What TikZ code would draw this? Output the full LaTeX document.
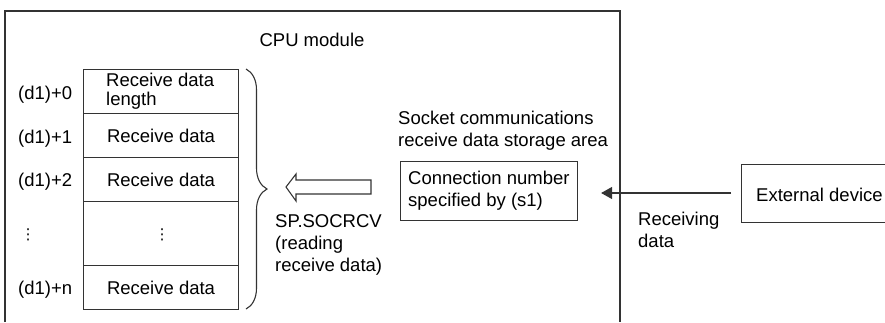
\documentclass[tikz,border=0pt]{standalone}
\usepackage{fontspec}
\setmainfont{Liberation Sans}
\newfontfamily\dejavu{DejaVu Sans}
\usetikzlibrary{decorations.pathreplacing,arrows.meta}
\begin{document}
\begin{tikzpicture}[x=1pt,y=-1pt,
  every node/.style={font=\fontsize{18.5}{22}\selectfont},
  ln/.style={draw=black!80,line width=1.1pt},
  cell/.style={ln,minimum width=155pt,inner sep=0pt,anchor=north west},
  lbl/.style={anchor=west,inner sep=0pt},
  vd/.style={inner sep=0pt,font=\dejavu\fontsize{15}{15}\selectfont},
  txt/.style={anchor=west,inner sep=0pt,align=left}]
\useasboundingbox (0,0) rectangle (885,322);
% CPU module frame (open bottom)
\draw[ln] (5,322) -- (5,11) -- (620,11) -- (620,322);
\node[inner sep=0pt] (cpu) at (312,40) {CPU module};
% table
\node[cell,minimum height=44pt] (r0) at (83,69) {};
\node[cell,minimum height=44pt] (r1) at (83,113) {};
\node[cell,minimum height=44pt] (r2) at (83,157) {};
\node[cell,minimum height=64pt] (r3) at (83,201) {};
\node[cell,minimum height=44pt] (rn) at (83,265) {};
\node[txt,font=\fontsize{18.5}{19.5}\selectfont] (t0) at (106,91) {Receive data\\length};
\node[inner sep=0pt] (t1) at (r1.center) {Receive data};
\node[inner sep=0pt] (t2) at (r2.center) {Receive data};
\node[vd] (t3) at (162,235) {⋮};
\node[inner sep=0pt] (tn) at (rn.center) {Receive data};
% left labels
\node[lbl] (l0) at (18,95) {(d1)+0};
\node[lbl] (l1) at (18,139) {(d1)+1};
\node[lbl] (l2) at (18,182) {(d1)+2};
\node[vd] (l3) at (28,235) {⋮};
\node[lbl] (ln) at (18,290) {(d1)+n};
% brace
\coordinate (bt) at (246,69);
\coordinate (bb) at (246,309);
\draw[draw=black!80,line width=1.1pt,decorate,decoration={brace,amplitude=21pt}] (bt) -- (bb);
% hollow arrow
\draw[ln,line join=miter] (371,180) -- (296,180) -- (296,174) -- (286,187) -- (296,201) -- (296,194) -- (371,194) -- cycle;
\node[txt] (sp) at (275,245) {SP.SOCRCV\\(reading\\receive data)};
% socket area
\node[txt] (sock) at (398,131) {Socket communications\\receive data storage area};
\node[ln,anchor=north west,minimum width=177pt,minimum height=59pt,inner sep=0pt] (conn) at (400,161) {};
\node[txt] (connt) at (408,191) {Connection number\\specified by (s1)};
% external device
\node[ln,anchor=north west,minimum width=150pt,minimum height=58pt,inner sep=0pt] (ext) at (741,164) {};
\node[lbl] (extt) at (756,195) {External device};
\draw[ln,-{Triangle[length=11pt,width=12pt]},shorten <=10pt,shorten >=23pt] (ext.west |- 0,193) -- (conn.east |- 0,193);
\node[txt] (recv) at (638,230) {Receiving\\data};
\end{tikzpicture}
\end{document}
